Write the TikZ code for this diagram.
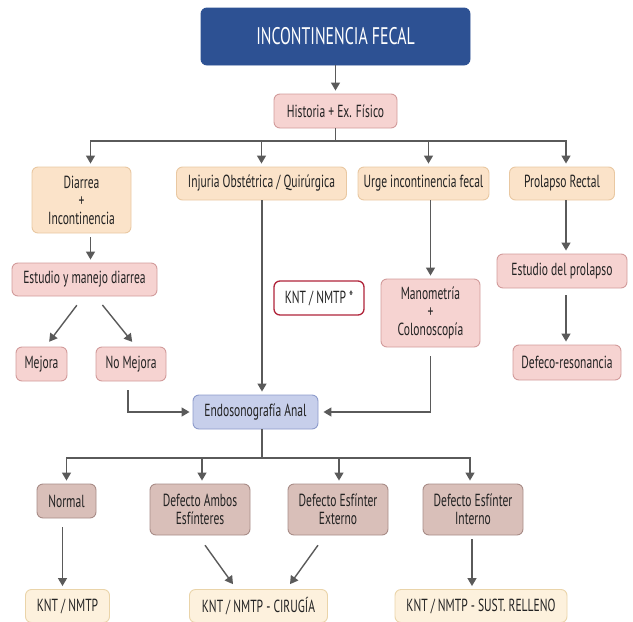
\documentclass[tikz,border=0pt]{standalone}
\usepackage{fontspec}
\setmainfont[FakeStretch=0.66]{PT Sans}
\usetikzlibrary{arrows.meta}

\definecolor{azulT}{HTML}{2D5193}
\definecolor{meloF}{HTML}{FBE3C9}
\definecolor{meloB}{HTML}{E9C8A2}
\definecolor{rosaF}{HTML}{F6D3D1}
\definecolor{rosaB}{HTML}{D29B9B}
\definecolor{lilaF}{HTML}{C7CFEB}
\definecolor{lilaB}{HTML}{8D9BCB}
\definecolor{cafeF}{HTML}{D9BFB9}
\definecolor{cafeB}{HTML}{A88C87}
\definecolor{cremaF}{HTML}{FDF1DD}
\definecolor{cremaB}{HTML}{EAD4A9}
\definecolor{rojoB}{HTML}{B0243A}
\definecolor{grisL}{HTML}{5A5A5A}
\definecolor{textoG}{HTML}{222222}

\begin{document}
\begin{tikzpicture}[x=1pt, y=-1pt, font=\fontsize{17.5}{18}\selectfont, text=textoG,
	caja/.style={draw, rounded corners=6pt, line width=0.9pt, align=center, inner sep=2pt},
	melo/.style={caja, fill=meloF, draw=meloB},
	rosa/.style={caja, fill=rosaF, draw=rosaB},
	lila/.style={caja, fill=lilaF, draw=lilaB},
	cafe/.style={caja, fill=cafeF, draw=cafeB},
	crema/.style={caja, fill=cremaF, draw=cremaB},
	linea/.style={draw=grisL, line width=1.4pt},
	flecha/.style={linea, -{Triangle[length=8pt,width=9pt]}, shorten >=3pt}]
	\useasboundingbox (0,0) rectangle (633,622);

	\node[caja, fill=azulT, draw=azulT, text=white, font=\fontsize{24}{26}\selectfont,
		minimum width=269pt, minimum height=57pt] (titulo) at (335.5,36.5) {INCONTINENCIA FECAL};
	\node[rosa, minimum width=123pt, minimum height=34pt] (historia) at (335.5,111) {Historia + Ex. Físico};

	% primera fila
	\node[melo, minimum width=99pt, minimum height=66pt] (diarrea) at (81.5,200) {Diarrea\\+\\Incontinencia};
	\node[melo, minimum width=170pt, minimum height=33pt] (injuria) at (261.5,183.5) {Injuria Obstétrica / Quirúrgica};
	\node[melo, minimum width=131pt, minimum height=33pt] (urge) at (423.5,183.5) {Urge incontinencia fecal};
	\node[melo, minimum width=105pt, minimum height=33pt] (prolapso) at (562,183.5) {Prolapso Rectal};

	\node[rosa, minimum width=145pt, minimum height=33pt] (estudio) at (84.5,279.5) {Estudio y manejo diarrea};
	\node[rosa, minimum width=51pt, minimum height=34pt] (mejora) at (41.5,364) {Mejora};
	\node[rosa, minimum width=70pt, minimum height=34pt] (nomejora) at (131,364) {No Mejora};
	\node[caja, draw=rojoB, fill=white, line width=1.3pt, minimum width=90pt, minimum height=34pt] (knt) at (319,298) {KNT / NMTP *};
	\node[rosa, minimum width=99pt, minimum height=68pt] (manometria) at (430.5,313) {Manometría\\+\\Colonoscopía};
	\node[rosa, minimum width=130pt, minimum height=34pt] (estprolapso) at (562,271) {Estudio del prolapso};
	\node[rosa, minimum width=108pt, minimum height=35pt] (defeco) at (567,362.5) {Defeco-resonancia};

	\node[lila, minimum width=125pt, minimum height=34pt] (endo) at (255.5,412) {Endosonografía Anal};

	% segunda fila
	\node[cafe, minimum width=59pt, minimum height=34pt] (normal) at (66.5,501) {Normal};
	\node[cafe, minimum width=100pt, minimum height=51pt] (ambos) at (200,509.5) {Defecto Ambos\\Esfínteres};
	\node[cafe, minimum width=100pt, minimum height=51pt] (externo) at (338,509.5) {Defecto Esfínter\\Externo};
	\node[cafe, minimum width=100pt, minimum height=51pt] (interno) at (473,509.5) {Defecto Esfínter\\Interno};

	\node[crema, minimum width=84pt, minimum height=33pt] (kntA) at (67.5,606) {KNT / NMTP};
	\node[crema, minimum width=138pt, minimum height=33pt] (kntB) at (258.5,606) {KNT / NMTP - CIRUGÍA};
	\node[crema, minimum width=172pt, minimum height=33pt] (kntC) at (481,606) {KNT / NMTP - SUST. RELLENO};

	% conectores
	\coordinate (bar1) at (335.5,141);
	\coordinate (bar2) at (262,458);

	\draw[flecha] (titulo) -- (historia);
	\draw[linea] (historia) -- (bar1);
	\draw[flecha] (bar1) -| ([xshift=9pt]diarrea.north);
	\draw[flecha] (bar1) -| (injuria.north);
	\draw[flecha] (bar1) -| ([xshift=5pt]urge.north);
	\draw[flecha] (bar1) -| ([xshift=4pt]prolapso.north);

	\draw[flecha, shorten <=4pt] ([xshift=9pt]diarrea.south) -- ([xshift=9pt]diarrea.south |- estudio.north);
	\draw[flecha, shorten <=11pt, shorten >=6pt] ([xshift=-1pt]estudio.south) -- ([xshift=4pt]mejora.north);
	\draw[flecha, shorten <=11pt, shorten >=6pt] ([xshift=11pt]estudio.south) -- ([xshift=5pt]nomejora.north);
	\draw[flecha] ([xshift=0.5pt]injuria.south) -- ([xshift=0.5pt]injuria.south |- endo.north);
	\draw[flecha] (urge.south -| manometria.north) -- (manometria.north);
	\draw[flecha] ([xshift=4pt]prolapso.south) -- ([xshift=4pt]prolapso.south |- estprolapso.north);
	\draw[flecha, shorten <=7pt] ([xshift=4pt]estprolapso.south) -- ([xshift=4pt]estprolapso.south |- defeco.north);
	\draw[flecha, shorten <=9pt] ([xshift=-3pt]nomejora.south) |- (endo.west);
	\draw[flecha, shorten <=9pt, shorten >=5pt] (manometria.south) |- (endo.east);

	\draw[linea] (endo.south -| bar2) -- (bar2);
	\draw[flecha] (bar2) -| (normal.north);
	\draw[flecha] (bar2) -| ([xshift=2pt]ambos.north);
	\draw[flecha] (bar2) -| ([xshift=1pt]externo.north);
	\draw[flecha] (bar2) -| ([xshift=-3pt]interno.north);

	\draw[flecha, shorten <=9pt, shorten >=3pt] ([xshift=-4pt]normal.south) -- ([xshift=-4pt]normal.south |- kntA.north);
	\draw[flecha, shorten <=12pt, shorten >=6pt] ([xshift=-2pt]ambos.south) -- ([xshift=-22pt]kntB.north);
	\draw[flecha, shorten <=12pt, shorten >=6pt] ([xshift=-13pt]externo.south) -- ([xshift=28pt]kntB.north);
	\draw[flecha, shorten <=4pt] ([xshift=-1pt]interno.south) -- ([xshift=-1pt]interno.south |- kntC.north);
\end{tikzpicture}
\end{document}
